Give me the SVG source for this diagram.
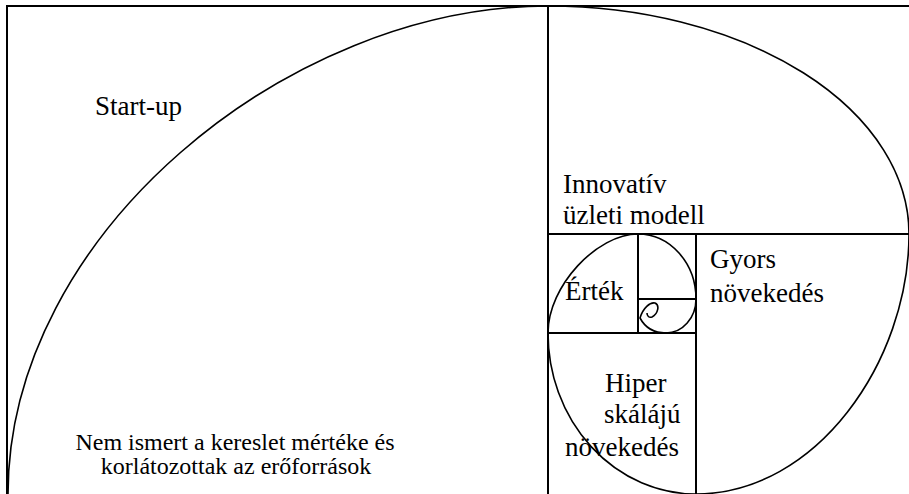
<svg xmlns="http://www.w3.org/2000/svg" width="909" height="494" viewBox="0 0 909 494">
<style>
.grid{fill:none;stroke:#000;stroke-width:2}
.spiral{fill:none;stroke:#000;stroke-width:1.6}
.lbl{font-family:"Liberation Serif","Times New Roman",serif;font-size:27px;fill:#000}
.sm{font-size:24px}
</style>
<rect width="909" height="494" fill="#fff"/>
<g id="squares" class="grid">
  <path d="M7,494 V6 H909"/>
  <path d="M548,6 V494"/>
  <path d="M548,234 H909"/>
  <path d="M696,234 V494"/>
  <path d="M548,333 H696"/>
  <path d="M638,234 V333"/>
  <path d="M638,299 H696"/>
</g>
<g id="spiral">
  <path class="spiral" d="M8,494 C8,234 288,6 548,6 A361,228 0 0 1 909,234 C909,362 816,494 696,494 A148,161 0 0 1 548,333 C548,286 597,234 638,234 A58,65 0 0 1 696,299 A30,34 0 0 1 666,333 Q648,333 640,318 C643,308 650,302 655,303 C660,305 658,314 652,317 C649,318 647,316 647,313"/>
</g>
<g id="node-startup"><text class="lbl" x="95" y="115">Start-up</text></g>
<g id="node-nem"><text class="lbl sm" x="235" y="450" text-anchor="middle">Nem ismert a kereslet mértéke és</text><text class="lbl sm" x="236" y="474" text-anchor="middle">korlátozottak az erőforrások</text></g>
<g id="node-innovativ"><text class="lbl" x="563" y="193">Innovatív</text><text class="lbl" x="563" y="224">üzleti modell</text></g>
<g id="node-ertek"><text class="lbl" x="565" y="300">Érték</text></g>
<g id="node-gyors"><text class="lbl" x="710" y="268">Gyors</text><text class="lbl" x="710" y="302">növekedés</text></g>
<g id="node-hiper"><text class="lbl" x="605" y="392">Hiper</text><text class="lbl" x="604" y="423">skálájú</text><text class="lbl" x="565" y="456">növekedés</text></g>
</svg>
